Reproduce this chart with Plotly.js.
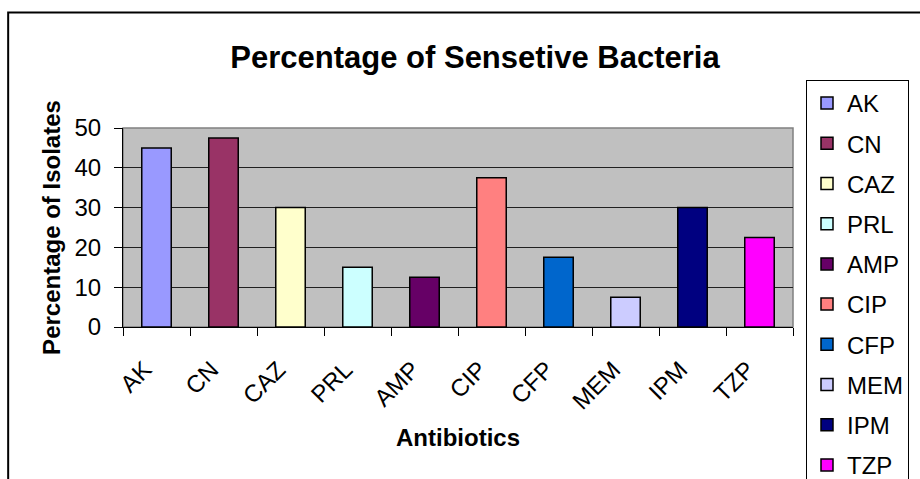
<!DOCTYPE html>
<html>
<head>
<meta charset="utf-8">
<script src="https://cdn.plot.ly/plotly-3.0.1.min.js"></script>
<style>html,body{margin:0;padding:0;background:#fff;overflow:hidden;}#chart{width:920px;height:500px;}</style>
</head>
<body>
<div id="chart"></div>
<script>
var categories = ["AK", "CN", "CAZ", "PRL", "AMP", "CIP", "CFP", "MEM", "IPM", "TZP"];
var values = [45, 47.5, 30, 15, 12.5, 37.5, 17.5, 7.5, 30, 22.5];
var colors = ["#9999FF", "#993366", "#FFFFCC", "#CCFFFF", "#660066", "#FF8080", "#0066CC", "#CCCCFF", "#000080", "#FF00FF"];
var yTicks = [0, 10, 20, 30, 40, 50];

var FONT = "Liberation Sans, Arial, sans-serif";
var traces = categories.map(function (c, i) {
  return {
    type: "bar",
    name: c,
    x: [c],
    y: [values[i]],
    width: 0.44,
    legendgroup: c,
    marker: { color: colors[i], line: { color: "#000", width: 1.5 } },
    hoverinfo: "x+y"
  };
});

var H = 500;
var layout = {
  width: 920, height: H,
  margin: { l: 123, r: 126, t: 128, b: H - 327, pad: 0 },
  paper_bgcolor: "#fff",
  plot_bgcolor: "#C0C0C0",
  barmode: "overlay",
  showlegend: true,
  font: { family: FONT, color: "#000", size: 24 },
  title: {
    text: "<b>Percentage of Sensetive Bacteria</b>",
    font: { family: FONT, size: 31, color: "#000" },
    x: 475 / 920, xanchor: "center", xref: "container",
    y: 1 - 57 / H, yanchor: "middle", yref: "container"
  },
  xaxis: {
    type: "category",
    categoryorder: "array", categoryarray: categories,
    tickangle: -45,
    ticks: "outside", ticklen: 8, tickcolor: "#000", tickwidth: 1,
    tickson: "boundaries",
    showline: true, linecolor: "#000", linewidth: 1,
    showgrid: false,
    ticklabelstandoff: 18,
    ticklabelshift: -12,
    tickfont: { family: FONT, size: 24, color: "#000" },
    title: { text: "<b>Antibiotics</b>", font: { family: FONT, size: 24, color: "#000" }, standoff: 15 },
    fixedrange: true
  },
  yaxis: {
    range: [0, 50],
    tickvals: yTicks,
    ticktext: yTicks.map(String),
    ticks: "outside", ticklen: 8, tickcolor: "#000", tickwidth: 1,
    showline: true, linecolor: "#000", linewidth: 1,
    showgrid: true, gridcolor: "#202020", gridwidth: 1,
    zeroline: false,
    ticklabelstandoff: 8,
    tickfont: { family: FONT, size: 24, color: "#000" },
    title: { text: "<b>Percentage of Isolates</b>", font: { family: FONT, size: 24, color: "#000" }, standoff: 7 },
    fixedrange: true
  },
  legend: {
    x: (806 - 123) / 671, xanchor: "left",
    y: (327 - 80) / 199, yanchor: "top",
    bordercolor: "#000", borderwidth: 1,
    bgcolor: "#fff",
    font: { family: FONT, size: 24, color: "#000" },
    traceorder: "grouped",
    tracegroupgap: 6,
    itemwidth: 30,
    maxheight: 2000
  },
  shapes: [
    { type: "rect", xref: "paper", yref: "paper", x0: 0, x1: 1, y0: 0, y1: 1,
      line: { color: "#808080", width: 1.5 }, layer: "below" },
    { type: "rect", xref: "paper", yref: "paper",
      x0: (8 - 123) / 671, x1: (930 - 123) / 671,
      y0: (327 - 495) / 199, y1: (327 - 12.5) / 199,
      line: { color: "#000", width: 2 }, fillcolor: "rgba(0,0,0,0)", layer: "above" }
  ]
};

Plotly.newPlot("chart", traces, layout, { displayModeBar: false, staticPlot: true });
</script>
</body>
</html>
